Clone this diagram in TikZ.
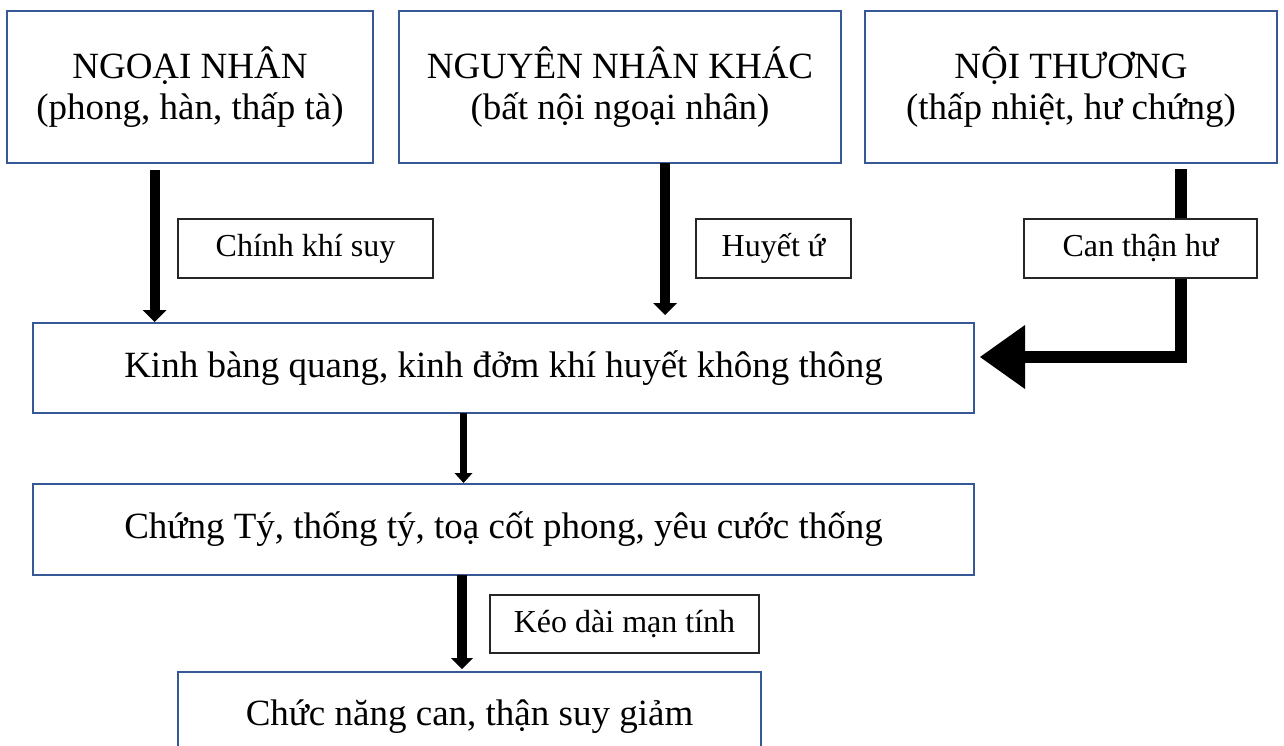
\documentclass[tikz,border=0pt]{standalone}
\usepackage{fontspec}
\setmainfont{Liberation Serif}
\usetikzlibrary{arrows.meta,calc}
\definecolor{boxblue}{RGB}{54,88,150}
\tikzset{
  mainbox/.style={draw=boxblue, line width=2pt, fill=white, align=center, inner sep=0pt, font=\fontsize{37}{41}\selectfont},
  labelbox/.style={draw=black!85, line width=1.3pt, fill=white, align=center, inner sep=0pt, font=\fontsize{32}{36}\selectfont},
  arrowline/.style={line width=#1, draw=black, line join=miter},
}
\begin{document}
\begin{tikzpicture}[x=1pt,y=-1pt]
\useasboundingbox (0,0) rectangle (1284,746);
\clip (0,0) rectangle (1284,746);
% main boxes
\node[mainbox, minimum width=366pt, minimum height=152pt] (ngoai) at (190,87) {\rule{0pt}{30pt}NGOẠI NHÂN\\(phong, hàn, thấp tà)};
\node[mainbox, minimum width=442pt, minimum height=152pt] (khac) at (620,87) {\rule{0pt}{30pt}NGUYÊN NHÂN KHÁC\\(bất nội ngoại nhân)};
\node[mainbox, minimum width=412pt, minimum height=152pt] (noi) at (1071,87) {\rule{0pt}{30pt}NỘI THƯƠNG\\(thấp nhiệt, hư chứng)};
\node[mainbox, minimum width=941pt, minimum height=90pt] (kinh) at (503.5,368) {Kinh bàng quang, kinh đởm khí huyết không thông};
\node[mainbox, minimum width=941pt, minimum height=91pt] (chung) at (503.5,529.5) {Chứng Tý, thống tý, toạ cốt phong, yêu cước thống};
\node[mainbox, minimum width=583pt, minimum height=90pt] (chuc) at (469.5,717) {Chức năng can, thận suy giảm};
% arrow start points
\coordinate (a1s) at (154.5,170);
\coordinate (a2s) at (665,163);
\coordinate (a3s) at (1181,169);
\coordinate (a3c) at (1181,357);
\coordinate (a3e) at (980,357);
\coordinate (a4s) at (463.5,413);
\coordinate (a5s) at (462,575);
% connectors
\draw[arrowline=10pt, -{Triangle[length=12pt,width=24pt,line width=0pt]}] (a1s) -- (a1s |- kinh.north);
\draw[arrowline=10pt, -{Triangle[length=12pt,width=24pt,line width=0pt]}] (a2s) -- ([yshift=7pt]a2s |- kinh.north);
\draw[arrowline=12.5pt, -{Triangle[length=45pt,width=64pt,line width=0pt]}] (a3s) -- (a3c) -- (a3e);
\draw[arrowline=7pt, -{Triangle[length=10pt,width=18pt,line width=0pt]}] (a4s) -- (a4s |- chung.north);
\draw[arrowline=9.5pt, -{Triangle[length=11pt,width=22pt,line width=0pt]}] (a5s) -- ([yshift=2pt]a5s |- chuc.north);
% label boxes
\node[labelbox, minimum width=255pt, minimum height=59pt] (chinh) at (305.5,248.5) {Chính khí suy};
\node[labelbox, minimum width=155pt, minimum height=59pt] (huyet) at (773.5,248.5) {Huyết ứ};
\node[labelbox, minimum width=233pt, minimum height=59pt] (canthan) at (1140.5,248.5) {Can thận hư};
\node[labelbox, minimum width=269pt, minimum height=58pt] (keo) at (624.5,624) {Kéo dài mạn tính};
\end{tikzpicture}
\end{document}
